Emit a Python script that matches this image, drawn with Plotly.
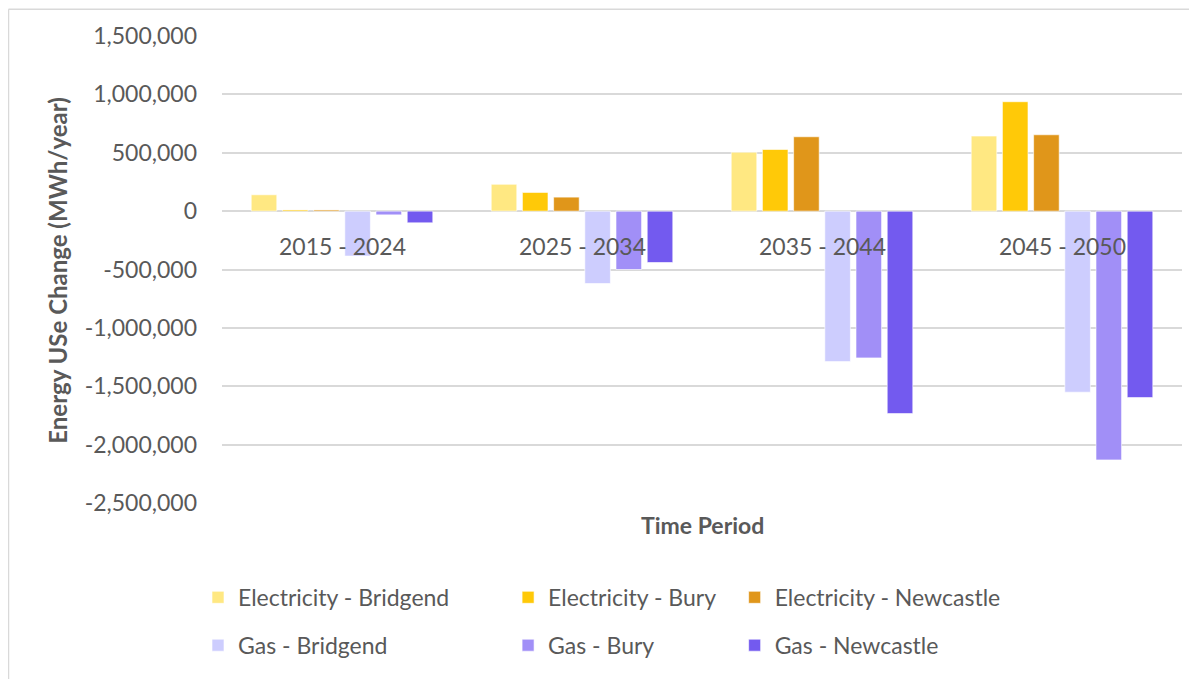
import plotly.graph_objects as go

periods = ["2015 - 2024", "2025 - 2034", "2035 - 2044", "2045 - 2050"]
series_names = ["Electricity - Bridgend", "Electricity - Bury", "Electricity - Newcastle",
                "Gas - Bridgend", "Gas - Bury", "Gas - Newcastle"]
elec_bridgend = [140000, 230000, 505000, 643000]
elec_bury = [10000, 160000, 528000, 937000]
elec_newcastle = [10000, 120000, 637000, 654000]
gas_bridgend = [-385000, -620000, -1289000, -1551000]
gas_bury = [-32000, -500000, -1257000, -2131000]
gas_newcastle = [-100000, -440000, -1734000, -1597000]
colors = ["#FFE882", "#FFC908", "#E0961A", "#CDCDFE", "#A18FF7", "#735AEF"]
legend_ids = ["legend", "legend2", "legend3", "legend", "legend2", "legend3"]
y_ticks = [1500000, 1000000, 500000, 0, -500000, -1000000, -1500000, -2000000, -2500000]

values = [elec_bridgend, elec_bury, elec_newcastle, gas_bridgend, gas_bury, gas_newcastle]

FONT = "Lato"
GRAY = "#595959"

fig = go.Figure()
for name, vals, col, lg in zip(series_names, values, colors, legend_ids):
    fig.add_trace(go.Bar(
        x=periods, y=vals, name=name, marker_color=col,
        marker_line=dict(color="rgba(255,255,255,0.6)", width=1),
        legend=lg, legendgroup=name,
    ))

for p in periods:
    fig.add_annotation(x=p, y=0, xref="x", yref="y", text=p, showarrow=False,
                       yanchor="middle", yshift=-35,
                       font=dict(family=FONT, size=23, color=GRAY))

fig.add_annotation(x=0.5, y=-0.047, xref="paper", yref="paper", text="<b>Time Period</b>",
                   showarrow=False, yanchor="middle", xanchor="center",
                   font=dict(family=FONT, size=23, color=GRAY))
fig.add_annotation(x=-0.171, y=0.497, xref="paper", yref="paper",
                   text="<b>Energy USe Change (MWh/year)</b>", textangle=-90,
                   showarrow=False, yanchor="middle", xanchor="center",
                   font=dict(family=FONT, size=24, color=GRAY))

# chart border (top and left visible)
fig.add_shape(type="line", xref="paper", yref="paper", x0=-0.2224, x1=1.1, y0=1.0575, y1=1.0575,
              line=dict(color="#D9D9D9", width=1.5))
fig.add_shape(type="line", xref="paper", yref="paper", x0=-0.2224, x1=-0.2224, y0=1.0575, y1=-0.4,
              line=dict(color="#D9D9D9", width=1.5))

leg_common = dict(orientation="v", yanchor="top", y=-0.156, xanchor="left",
                  font=dict(family=FONT, size=23, color=GRAY), tracegroupgap=15,
                  bgcolor="rgba(0,0,0,0)", itemwidth=30)
fig.update_layout(
    barmode="group", bargap=0.22, bargroupgap=0.18,
    width=1189, height=671,
    margin=dict(l=214, r=15, t=28, b=169),
    paper_bgcolor="white", plot_bgcolor="white",
    showlegend=True,
    legend=dict(x=-0.025, **leg_common),
    legend2=dict(x=0.298, **leg_common),
    legend3=dict(x=0.534, **leg_common),
    xaxis=dict(showticklabels=False, showgrid=False, zeroline=False, showline=False, ticks=""),
    yaxis=dict(range=[-2500000, 1500000], tickvals=y_ticks,
               ticktext=[f"{v:,}" for v in y_ticks],
               showgrid=True, gridcolor="#D9D9D9", gridwidth=1.5,
               zeroline=True, zerolinecolor="#D9D9D9", zerolinewidth=1.5,
               showline=False, ticks="", ticklabelstandoff=24,
               tickfont=dict(family=FONT, size=23, color=GRAY)),
    font=dict(family=FONT, color=GRAY),
)

fig.write_html("out.html")
